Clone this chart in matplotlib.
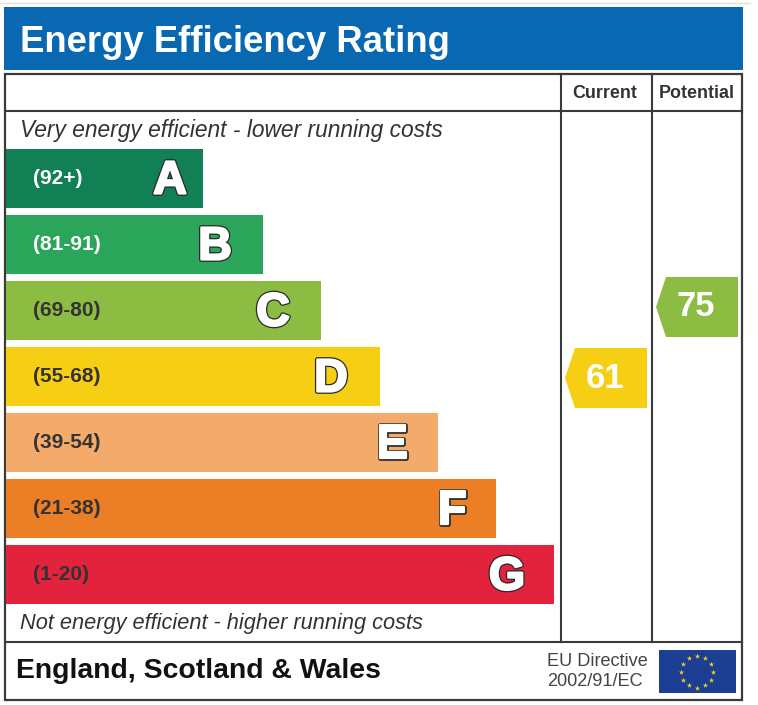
import numpy as np
import matplotlib
matplotlib.use("Agg")
import matplotlib.pyplot as plt
import matplotlib.patheffects as pe
from matplotlib.patches import Polygon, Rectangle

plt.rcParams["font.family"] = ["Liberation Sans", "DejaVu Sans"]

# chart data
letters = ["A", "B", "C", "D", "E", "F", "G"]
ranges = ["(92+)", "(81-91)", "(69-80)", "(55-68)", "(39-54)", "(21-38)", "(1-20)"]
band_floor = [92, 81, 69, 55, 39, 21, 1]
bar_length = [197, 257, 315, 374, 432, 490, 548]
band_colors = ["#128055", "#2ba55a", "#8dbc42", "#f6cf15", "#f3aa6b", "#ec7e26", "#e3223d"]
range_colors = ["white", "white", "#333333", "#333333", "#333333", "#333333", "#333333"]
current = 61
potential = 75

title = "Energy Efficiency Rating"
top_note = "Very energy efficient - lower running costs"
bottom_note = "Not energy efficient - higher running costs"
region = "England, Scotland & Wales"
directive = ["EU Directive", "2002/91/EC"]
columns = ["Current", "Potential"]

LINE = "#3a3a3a"
BAND_TOP = 149
BAND_STEP = 66
BAND_H = 59
BAR_LEFT = 6
# how far each big letter sits in from the end of its bar
LETTER_INSET = [33, 48, 48, 49, 46, 44, 47]


def band_index(score):
    for i, floor in enumerate(band_floor):
        if score >= floor:
            return i
    return len(band_floor) - 1


def draw_arrow(ax, score, x_tip, x_right, y_mid):
    color = band_colors[band_index(score)]
    top, bot = y_mid - 30, y_mid + 30
    ax.add_patch(Polygon([(x_tip, y_mid), (x_tip + 10, top), (x_right, top),
                          (x_right, bot), (x_tip + 10, bot)],
                         closed=True, fc=color, ec="none", zorder=3))
    ax.text((x_tip + x_right) / 2 - 1, y_mid, str(score), color="white", fontsize=25,
            fontweight="bold", ha="center", va="center", zorder=4)


fig = plt.figure(figsize=(7.58, 7.05), dpi=100)
ax = fig.add_axes([0, 0, 1, 1])
ax.set_xlim(0, 758)
ax.set_ylim(705, 0)
ax.axis("off")

# faint line above the header
ax.plot([0, 750], [2.5, 2.5], color="#e6e0da", lw=1)

# header band
ax.add_patch(Rectangle((4, 7), 739, 63, fc="#0868b2", ec="none"))
ax.text(20, 42, title, color="white", fontsize=26.3, fontweight="bold", va="center", ha="left")

# table frame
ax.add_patch(Rectangle((5, 74), 737, 626, fc="white", ec=LINE, lw=1.6, zorder=1))
ax.plot([5, 742], [111, 111], color=LINE, lw=1.5, zorder=2)
ax.plot([5, 742], [642, 642], color=LINE, lw=1.5, zorder=2)
ax.plot([561, 561], [74, 642], color=LINE, lw=1.5, zorder=2)
ax.plot([652, 652], [74, 642], color=LINE, lw=1.5, zorder=2)

ax.text(605, 93, columns[0], color="#333333", fontsize=12.9, fontweight="bold", ha="center", va="center")
ax.text(697, 93, columns[1], color="#333333", fontsize=12.9, fontweight="bold", ha="center", va="center")

ax.text(20, 131, top_note, color="#333333", fontsize=16.4, style="italic", va="center")
ax.text(20, 624, bottom_note, color="#333333", fontsize=15.7, style="italic", va="center")

# rating bands
y_pos = [BAND_TOP + BAND_H / 2 + i * BAND_STEP for i in range(len(letters))]
ax.barh(y_pos, bar_length, height=BAND_H, left=BAR_LEFT, color=band_colors, zorder=2)
for i, y in enumerate(y_pos):
    ax.text(33, y, ranges[i], color=range_colors[i], fontsize=15, fontweight="bold",
            va="center", zorder=3)
    ax.text(BAR_LEFT + bar_length[i] - LETTER_INSET[i], y + 3, letters[i], color="white",
            fontsize=33.5, fontweight="bold", ha="center", va="center", zorder=3,
            path_effects=[pe.withStroke(linewidth=3.4, foreground="#2a2a2a"),
                          pe.withStroke(linewidth=1.6, foreground="white")])

# score arrows
draw_arrow(ax, current, 565, 647, 378)
draw_arrow(ax, potential, 656, 738, 307)

# footer
ax.text(16, 671, region, color="#111111", fontsize=20.4, fontweight="bold", va="center")
ax.text(547, 662, directive[0], color="#444444", fontsize=13.1, va="center")
ax.text(547, 682, directive[1], color="#444444", fontsize=13.1, va="center")

# EU flag
ax.add_patch(Rectangle((659, 650), 77, 43, fc="#1c3f94", ec="none", zorder=2))
angles = np.deg2rad(np.arange(0, 360, 30))
ax.scatter(697 + 16 * np.cos(angles), 671.5 + 16 * np.sin(angles), marker="*", s=16,
           color="#f2d21b", linewidths=0, zorder=3)

fig.savefig("out.png", dpi=100)
